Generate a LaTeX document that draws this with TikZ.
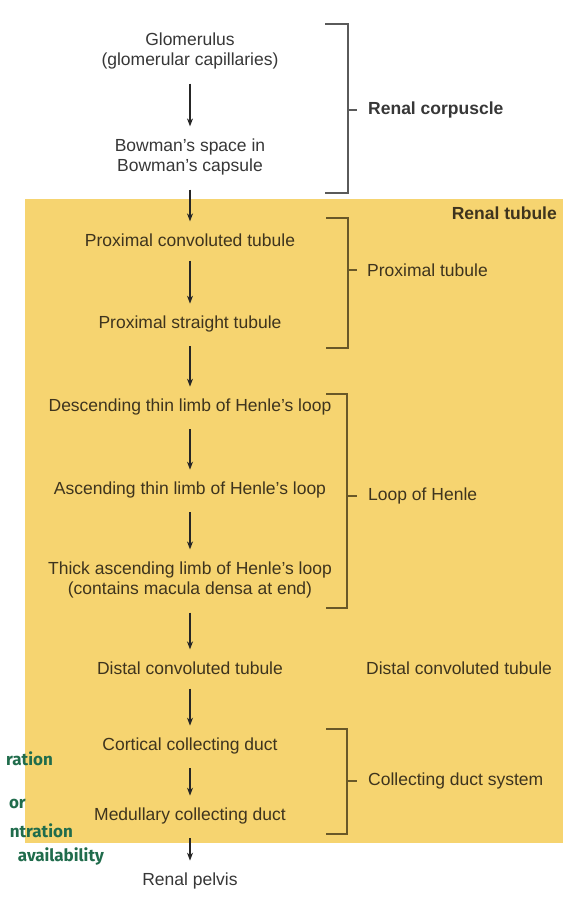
\documentclass[tikz,border=0pt]{standalone}
\usepackage{fontspec}
\setmainfont{Liberation Sans}
\newfontfamily\handfont{Fira Sans}
\usetikzlibrary{arrows.meta}
\definecolor{tubefill}{RGB}{246,212,112}
\definecolor{txtw}{RGB}{55,55,55}
\definecolor{txty}{RGB}{62,52,30}
\definecolor{brkw}{RGB}{90,90,90}
\definecolor{brky}{RGB}{105,88,40}
\definecolor{hand}{RGB}{32,108,76}
\begin{document}
\begin{tikzpicture}[x=1pt,y=-1pt,
  every node/.style={font=\fontsize{17.5}{20.5}\selectfont, inner sep=0pt},
  stagew/.style={text=txtw, align=center},
  stagey/.style={text=txty, align=center},
  grplabel/.style={anchor=west, text=txty},
  arr/.style={-{Stealth[length=8pt,width=6pt]}, line width=1.4pt, black!85, shorten <=14pt, shorten >=12pt},
  brkwhite/.style={draw=brkw, line width=1.2pt},
  brkyellow/.style={draw=brky, line width=1.2pt},
  handtxt/.style={anchor=east, text=hand, font=\handfont\fontsize{17}{17}\selectfont\bfseries}
]
\useasboundingbox (0,0) rectangle (580,906);
\fill[white] (0,0) rectangle (580,906);
\fill[tubefill] (25,199) rectangle (563,843);

% stages
\node[stagew] (glom) at (190,51) {Glomerulus\\(glomerular capillaries)};
\node[stagew] (bow) at (190,157) {Bowman's space in\\Bowman's capsule};
\node[stagey] (pct) at (190,240) {Proximal convoluted tubule};
\node[stagey] (pst) at (190,324) {Proximal straight tubule};
\node[stagey] (dtl) at (190,407) {Descending thin limb of Henle's loop};
\node[stagey] (atl) at (190,490) {Ascending thin limb of Henle's loop};
\node[stagey] (tal) at (190,580) {Thick ascending limb of Henle's loop\\(contains macula densa at end)};
\node[stagey] (dct) at (190,668) {Distal convoluted tubule};
\node[stagey] (ccd) at (190,746) {Cortical collecting duct};
\node[stagey] (mcd) at (190,816) {Medullary collecting duct};
\node[stagew] (pelvis) at (190,881) {Renal pelvis};

% arrows
\draw[arr] (glom.south) -- (bow.north);
\draw[arr] (bow.south) -- (pct.north);
\draw[arr] (pct.south) -- (pst.north);
\draw[arr] (pst.south) -- (dtl.north);
\draw[arr] (dtl.south) -- (atl.north);
\draw[arr] (atl.south) -- (tal.north);
\draw[arr] (tal.south) -- (dct.north);
\draw[arr] (dct.south) -- (ccd.north);
\draw[arr] (ccd.south) -- (mcd.north);
\draw[arr] (mcd.south) -- (pelvis.north);

% brackets
\draw[brkwhite] (325,24) -- (348,24) -- (348,193) -- (325,193);
\draw[brkwhite] (348,110) -- (357,110);
\node[anchor=west, text=txtw, font=\fontsize{17.5}{20.5}\selectfont\bfseries] (corp) at (368,110) {Renal corpuscle};

\node[anchor=east, text=txty, font=\fontsize{17.5}{20.5}\selectfont\bfseries] (tubule) at (557,213) {Renal tubule};

\draw[brkyellow] (326,218) -- (348,218) -- (348,348) -- (326,348);
\draw[brkyellow] (348,270) -- (357,270);
\node[grplabel] (prox) at (367,270) {Proximal tubule};

\draw[brkyellow] (326,394) -- (347,394) -- (347,608) -- (326,608);
\draw[brkyellow] (347,496) -- (357,496);
\node[grplabel] (loop) at (368,496) {Loop of Henle};

\node[grplabel] (distal) at (366,668) {Distal convoluted tubule};

\draw[brkyellow] (326,729) -- (347,729) -- (347,834) -- (326,834);
\draw[brkyellow] (347,781) -- (357,781);
\node[grplabel] (cds) at (368,781) {Collecting duct system};

% handwritten fragments
\node[handtxt] (h1) at (53,759) {ration};
\node[handtxt] (h2) at (26,804) {or};
\node[handtxt] (h3) at (73,831) {ntration};
\node[handtxt] (h4) at (104,856) {availability};
\end{tikzpicture}
\end{document}
